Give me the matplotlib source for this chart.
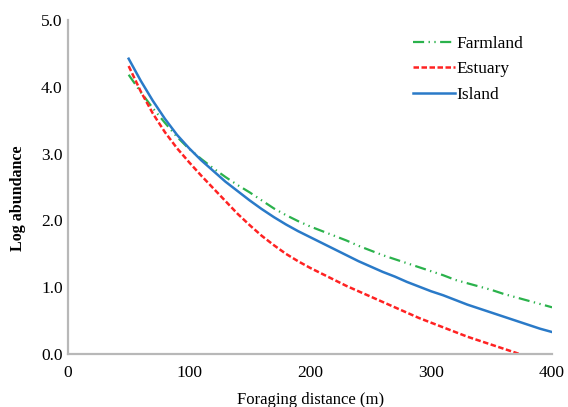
import matplotlib
matplotlib.use("Agg")
import matplotlib.pyplot as plt

dist = [50, 60, 70, 80, 90, 100, 110, 120, 130, 140, 150, 160, 170, 180, 190, 200,
        210, 220, 230, 240, 250, 260, 270, 280, 290, 300, 310, 320, 330, 340, 350,
        360, 370, 380, 390, 400]
farmland = [4.18, 3.92, 3.68, 3.46, 3.25, 3.07, 2.92, 2.78, 2.65, 2.53, 2.42, 2.30, 2.18,
            2.08, 1.99, 1.91, 1.84, 1.77, 1.70, 1.62, 1.55, 1.48, 1.42, 1.36, 1.30, 1.24,
            1.18, 1.11, 1.06, 1.01, 0.96, 0.90, 0.85, 0.80, 0.75, 0.70]
island = [4.42, 4.09, 3.79, 3.52, 3.28, 3.08, 2.90, 2.74, 2.58, 2.44, 2.30, 2.17, 2.05,
          1.94, 1.84, 1.75, 1.66, 1.57, 1.48, 1.39, 1.31, 1.23, 1.16, 1.08, 1.01, 0.94,
          0.88, 0.81, 0.74, 0.68, 0.62, 0.56, 0.50, 0.44, 0.38, 0.33]
est_dist = [50, 60, 70, 80, 90, 100, 110, 120, 130, 140, 150, 160, 170, 180, 190, 200,
            210, 220, 230, 240, 250, 260, 270, 280, 290, 300, 310, 320, 330, 340, 350,
            360, 370, 373]
estuary = [4.31, 3.93, 3.60, 3.32, 3.08, 2.87, 2.67, 2.48, 2.29, 2.10, 1.93, 1.77, 1.63,
           1.50, 1.39, 1.29, 1.20, 1.11, 1.02, 0.94, 0.86, 0.78, 0.70, 0.62, 0.54, 0.47,
           0.40, 0.33, 0.26, 0.20, 0.14, 0.08, 0.02, 0.0]

xticks = [0, 100, 200, 300, 400]
yticks = [0.0, 1.0, 2.0, 3.0, 4.0, 5.0]

plt.rcParams['font.family'] = ['Liberation Serif', 'DejaVu Serif']

fig = plt.figure(figsize=(5.68, 4.07), dpi=100)
ax = fig.add_axes([0.12, 0.13, 0.852, 0.821])

ax.plot(dist, farmland, color='#2bb24c', lw=1.6, linestyle=(0, (5, 2, 0.6, 2, 0.6, 2)), label='Farmland')
ax.plot(est_dist, estuary, color='#ff2222', lw=1.8, linestyle=(0, (2.2, 1.0)), label='Estuary')
ax.plot(dist, island, color='#2a7ac8', lw=1.8, linestyle='-', label='Island')

ax.set_xlim(0, 400)
ax.set_ylim(0, 5)
ax.set_xticks(xticks)
ax.set_yticks(yticks)
ax.set_yticklabels([f"{v:.1f}" for v in yticks])
ax.tick_params(length=0, labelsize=12.5)
ax.tick_params(axis='x', pad=8)
ax.tick_params(axis='y', pad=4)
for s in ['top', 'right']:
    ax.spines[s].set_visible(False)
for s in ['left', 'bottom']:
    ax.spines[s].set_color('#b8b8b8')
    ax.spines[s].set_linewidth(1.6)

ax.set_xlabel('Foraging distance (m)', fontsize=12, labelpad=8)
ax.set_ylabel('Log abundance', fontsize=11.5, fontweight='bold')
ax.yaxis.set_label_coords(-0.088, 0.467)

leg = ax.legend(loc='upper right', bbox_to_anchor=(0.973, 1.0), frameon=False, fontsize=12.5,
                handlelength=2.4, handletextpad=0.1, labelspacing=0.55)

fig.savefig('out.png', dpi=100)
